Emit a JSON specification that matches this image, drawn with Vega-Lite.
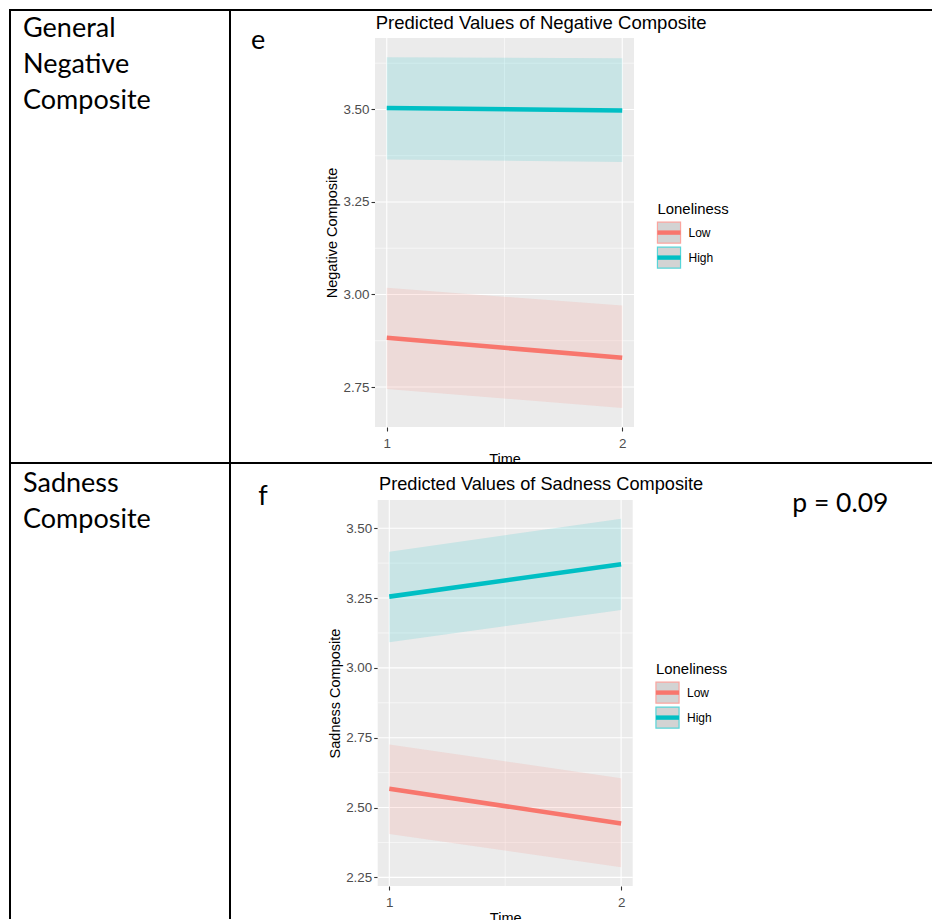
{
  "$schema": "https://vega.github.io/schema/vega-lite/v6.json",
  "background": "#FFFFFF",
  "padding": {"left": 9, "top": 9, "right": 0, "bottom": 0},
  "bounds": "flush",
  "spacing": 0,
  "columns": 2,
  "resolve": {
    "scale": {"fill": "independent", "stroke": "independent"},
    "legend": {"fill": "independent", "stroke": "independent"}
  },
  "datasets": {
    "negative": [
      {"Time": 1, "Loneliness": "Low", "predicted": 2.883, "conf_low": 2.745, "conf_high": 3.018},
      {"Time": 2, "Loneliness": "Low", "predicted": 2.829, "conf_low": 2.693, "conf_high": 2.970},
      {"Time": 1, "Loneliness": "High", "predicted": 3.504, "conf_low": 3.365, "conf_high": 3.641},
      {"Time": 2, "Loneliness": "High", "predicted": 3.497, "conf_low": 3.358, "conf_high": 3.638}
    ],
    "sadness": [
      {"Time": 1, "Loneliness": "Low", "predicted": 2.567, "conf_low": 2.405, "conf_high": 2.726},
      {"Time": 2, "Loneliness": "Low", "predicted": 2.443, "conf_low": 2.286, "conf_high": 2.605},
      {"Time": 1, "Loneliness": "High", "predicted": 3.255, "conf_low": 3.092, "conf_high": 3.416},
      {"Time": 2, "Loneliness": "High", "predicted": 3.371, "conf_low": 3.207, "conf_high": 3.534}
    ]
  },
  "concat": [
    {
      "width": 220,
      "height": 453,
      "view": {"stroke": "#000000", "strokeWidth": 2},
      "title": {
        "text": ["General", "Negative", "Composite"],
        "frame": "group", "anchor": "start", "dx": 13, "offset": -105,
        "font": "Lato", "fontSize": 27, "fontWeight": "normal", "lineHeight": 36, "color": "#000000"
      },
      "data": {"values": []},
      "mark": {"type": "rule"},
      "encoding": {}
    },
    {
      "width": 702,
      "height": 453,
      "view": {"stroke": "#000000", "strokeWidth": 2, "strokeDash": [702, 453, 1155, 0]},
      "title": {
        "text": "Predicted Values of Negative Composite",
        "frame": "group", "anchor": "start", "dx": 145.7, "offset": -22,
        "font": "Liberation Sans", "fontSize": 18.5, "fontWeight": "normal", "color": "#000000"
      },
      "layer": [
        {
          "data": {"values": [{}]},
          "mark": {"type": "rect", "color": "#EBEBEB"},
          "encoding": {
            "x": {"datum": 0.95, "type": "quantitative",
                  "scale": {"domain": [0.95, 2.05], "range": [145, 404], "nice": false, "zero": false}},
            "x2": {"datum": 2.05},
            "y": {"datum": 2.642, "type": "quantitative",
                  "scale": {"domain": [2.642, 3.693], "range": [417, 28], "nice": false, "zero": false}},
            "y2": {"datum": 3.693}
          }
        },
        {
          "data": {"values": [{"v": 2.875}, {"v": 3.125}, {"v": 3.375}, {"v": 3.625}]},
          "mark": {"type": "rule", "color": "#FFFFFF", "strokeWidth": 0.55},
          "encoding": {
            "y": {"field": "v", "type": "quantitative"},
            "x": {"datum": 0.95, "type": "quantitative"},
            "x2": {"datum": 2.05}
          }
        },
        {
          "data": {"values": [{"v": 1.5}]},
          "mark": {"type": "rule", "color": "#FFFFFF", "strokeWidth": 0.55},
          "encoding": {
            "x": {"field": "v", "type": "quantitative"},
            "y": {"datum": 2.642, "type": "quantitative"},
            "y2": {"datum": 3.693}
          }
        },
        {
          "data": {"values": [{"v": 2.75}, {"v": 3.0}, {"v": 3.25}, {"v": 3.5}]},
          "mark": {"type": "rule", "color": "#FFFFFF", "strokeWidth": 1.1},
          "encoding": {
            "y": {"field": "v", "type": "quantitative"},
            "x": {"datum": 0.95, "type": "quantitative"},
            "x2": {"datum": 2.05}
          }
        },
        {
          "data": {"values": [{"v": 1}, {"v": 2}]},
          "mark": {"type": "rule", "color": "#FFFFFF", "strokeWidth": 1.1},
          "encoding": {
            "x": {"field": "v", "type": "quantitative"},
            "y": {"datum": 2.642, "type": "quantitative"},
            "y2": {"datum": 3.693}
          }
        },
        {
          "data": {"name": "negative"},
          "mark": {"type": "area", "opacity": 0.15},
          "encoding": {
            "x": {"field": "Time", "type": "quantitative",
                  "axis": {"title": "Time", "values": [1, 2], "format": "d", "offset": -36, "grid": false, "domain": false,
                           "tickSize": 4, "tickColor": "#333333", "tickWidth": 1.1,
                           "labelFont": "Liberation Sans", "labelFontSize": 13.4, "labelColor": "#4D4D4D", "labelPadding": 5, "labelFlush": false,
                           "titleFont": "Liberation Sans", "titleFontSize": 14.5, "titleFontWeight": "normal", "titleColor": "#000000", "titlePadding": 3}},
            "y": {"field": "conf_low", "type": "quantitative",
                  "axis": {"title": "Negative Composite", "values": [2.75, 3.0, 3.25, 3.5], "format": ".2f", "offset": -145, "grid": false, "domain": false,
                           "tickSize": 4, "tickColor": "#333333", "tickWidth": 1.1,
                           "labelFont": "Liberation Sans", "labelFontSize": 13.4, "labelColor": "#4D4D4D", "labelPadding": 2,
                           "titleFont": "Liberation Sans", "titleFontSize": 14.5, "titleFontWeight": "normal", "titleColor": "#000000", "titlePadding": 3.5}},
            "y2": {"field": "conf_high"},
            "fill": {"field": "Loneliness", "type": "nominal", "sort": ["Low", "High"],
                     "scale": {"range": ["#F8766D", "#00BFC4"]},
                     "legend": {"title": "Loneliness", "orient": "none", "legendX": 427.5, "legendY": 192.2, "padding": 0, "zindex": 2,
                                "titleFont": "Liberation Sans", "titleFontSize": 14.9, "titleFontWeight": "normal", "titleOpacity": 0, "titlePadding": 4,
                                "labelFont": "Liberation Sans", "labelFontSize": 12, "labelOpacity": 0, "labelOffset": 8,
                                "rowPadding": -3, "symbolType": "M-1.1,-1M1.1,1M-1.1,-0.21H1.1V0.21H-1.1Z", "symbolSize": 441,
                                "symbolStrokeWidth": 1.2, "symbolStrokeColor": "transparent", "symbolOpacity": 1}}
          }
        },
        {
          "data": {"name": "negative"},
          "mark": {"type": "line", "strokeWidth": 4.6, "strokeCap": "butt"},
          "encoding": {
            "x": {"field": "Time", "type": "quantitative"},
            "y": {"field": "predicted", "type": "quantitative"},
            "stroke": {"field": "Loneliness", "type": "nominal",
                       "scale": {"domain": ["Low", "High"], "range": ["#F8766D", "#00BFC4"]},
                       "legend": {"title": "Loneliness", "orient": "none", "legendX": 427.5, "legendY": 192.2, "padding": 0, "zindex": 1,
                                  "titleFont": "Liberation Sans", "titleFontSize": 14.9, "titleFontWeight": "normal", "titleColor": "#000000", "titlePadding": 4,
                                  "labelFont": "Liberation Sans", "labelFontSize": 12, "labelColor": "#000000", "labelOffset": 8,
                                  "rowPadding": -3, "symbolType": "M-1.1,-1H1.1V1H-1.1Z", "symbolSize": 441,
                                  "symbolStrokeWidth": 1.2, "symbolFillColor": "#BDBDBD", "symbolOpacity": 0.65}}
          }
        },
        {
          "data": {"values": [{"label": "e"}]},
          "mark": {"type": "text", "font": "Lato", "fontSize": 27, "color": "#000000", "align": "center", "baseline": "alphabetic"},
          "encoding": {
            "text": {"field": "label"},
            "x": {"datum": 0.4531, "type": "quantitative"},
            "y": {"datum": 3.6625, "type": "quantitative"}
          }
        }
      ]
    },
    {
      "width": 220,
      "height": 456,
      "view": {"stroke": "#000000", "strokeWidth": 2, "fill": "#FFFFFF", "strokeDash": [676, 220, 456, 0]},
      "title": {
        "text": ["Sadness", "Composite"],
        "frame": "group", "anchor": "start", "dx": 13, "offset": -70.5,
        "font": "Lato", "fontSize": 27, "fontWeight": "normal", "lineHeight": 36, "color": "#000000"
      },
      "data": {"values": []},
      "mark": {"type": "rule"},
      "encoding": {}
    },
    {
      "width": 702,
      "height": 456,
      "view": {"stroke": "#000000", "strokeWidth": 2, "fill": "#FFFFFF", "strokeDash": [702, 1158, 456, 0]},
      "title": {
        "text": "Predicted Values of Sadness Composite",
        "frame": "group", "anchor": "start", "dx": 149, "offset": -30.7,
        "font": "Liberation Sans", "fontSize": 18.2, "fontWeight": "normal", "color": "#000000"
      },
      "layer": [
        {
          "data": {"values": [{}]},
          "mark": {"type": "rect", "color": "#EBEBEB"},
          "encoding": {
            "x": {"datum": 0.95, "type": "quantitative",
                  "scale": {"domain": [0.95, 2.05], "range": [147.7, 402.7], "nice": false, "zero": false}},
            "x2": {"datum": 2.05},
            "y": {"datum": 2.219, "type": "quantitative",
                  "scale": {"domain": [2.219, 3.601], "range": [423, 37], "nice": false, "zero": false}},
            "y2": {"datum": 3.601}
          }
        },
        {
          "data": {"values": [{"v": 2.375}, {"v": 2.625}, {"v": 2.875}, {"v": 3.125}, {"v": 3.375}]},
          "mark": {"type": "rule", "color": "#FFFFFF", "strokeWidth": 0.55},
          "encoding": {
            "y": {"field": "v", "type": "quantitative"},
            "x": {"datum": 0.95, "type": "quantitative"},
            "x2": {"datum": 2.05}
          }
        },
        {
          "data": {"values": [{"v": 1.5}]},
          "mark": {"type": "rule", "color": "#FFFFFF", "strokeWidth": 0.55},
          "encoding": {
            "x": {"field": "v", "type": "quantitative"},
            "y": {"datum": 2.219, "type": "quantitative"},
            "y2": {"datum": 3.601}
          }
        },
        {
          "data": {"values": [{"v": 2.25}, {"v": 2.5}, {"v": 2.75}, {"v": 3.0}, {"v": 3.25}, {"v": 3.5}]},
          "mark": {"type": "rule", "color": "#FFFFFF", "strokeWidth": 1.1},
          "encoding": {
            "y": {"field": "v", "type": "quantitative"},
            "x": {"datum": 0.95, "type": "quantitative"},
            "x2": {"datum": 2.05}
          }
        },
        {
          "data": {"values": [{"v": 1}, {"v": 2}]},
          "mark": {"type": "rule", "color": "#FFFFFF", "strokeWidth": 1.1},
          "encoding": {
            "x": {"field": "v", "type": "quantitative"},
            "y": {"datum": 2.219, "type": "quantitative"},
            "y2": {"datum": 3.601}
          }
        },
        {
          "data": {"name": "sadness"},
          "mark": {"type": "area", "opacity": 0.15},
          "encoding": {
            "x": {"field": "Time", "type": "quantitative",
                  "axis": {"title": "Time", "values": [1, 2], "format": "d", "offset": -33, "grid": false, "domain": false,
                           "tickSize": 4, "tickColor": "#333333", "tickWidth": 1.1,
                           "labelFont": "Liberation Sans", "labelFontSize": 13.4, "labelColor": "#4D4D4D", "labelPadding": 5, "labelFlush": false,
                           "titleFont": "Liberation Sans", "titleFontSize": 14.5, "titleFontWeight": "normal", "titleColor": "#000000", "titlePadding": 3}},
            "y": {"field": "conf_low", "type": "quantitative",
                  "axis": {"title": "Sadness Composite", "values": [2.25, 2.5, 2.75, 3.0, 3.25, 3.5], "format": ".2f", "offset": -147.7, "grid": false, "domain": false,
                           "tickSize": 4, "tickColor": "#333333", "tickWidth": 1.1,
                           "labelFont": "Liberation Sans", "labelFontSize": 13.4, "labelColor": "#4D4D4D", "labelPadding": 2,
                           "titleFont": "Liberation Sans", "titleFontSize": 14.5, "titleFontWeight": "normal", "titleColor": "#000000", "titlePadding": 3.5}},
            "y2": {"field": "conf_high"},
            "fill": {"field": "Loneliness", "type": "nominal", "sort": ["Low", "High"],
                     "scale": {"range": ["#F8766D", "#00BFC4"]},
                     "legend": {"title": "Loneliness", "orient": "none", "legendX": 426, "legendY": 199.2, "padding": 0, "zindex": 2,
                                "titleFont": "Liberation Sans", "titleFontSize": 14.9, "titleFontWeight": "normal", "titleOpacity": 0, "titlePadding": 4,
                                "labelFont": "Liberation Sans", "labelFontSize": 12, "labelOpacity": 0, "labelOffset": 8,
                                "rowPadding": -3, "symbolType": "M-1.1,-1M1.1,1M-1.1,-0.21H1.1V0.21H-1.1Z", "symbolSize": 441,
                                "symbolStrokeWidth": 1.2, "symbolStrokeColor": "transparent", "symbolOpacity": 1}}
          }
        },
        {
          "data": {"name": "sadness"},
          "mark": {"type": "line", "strokeWidth": 4.6, "strokeCap": "butt"},
          "encoding": {
            "x": {"field": "Time", "type": "quantitative"},
            "y": {"field": "predicted", "type": "quantitative"},
            "stroke": {"field": "Loneliness", "type": "nominal",
                       "scale": {"domain": ["Low", "High"], "range": ["#F8766D", "#00BFC4"]},
                       "legend": {"title": "Loneliness", "orient": "none", "legendX": 426, "legendY": 199.2, "padding": 0, "zindex": 1,
                                  "titleFont": "Liberation Sans", "titleFontSize": 14.9, "titleFontWeight": "normal", "titleColor": "#000000", "titlePadding": 4,
                                  "labelFont": "Liberation Sans", "labelFontSize": 12, "labelColor": "#000000", "labelOffset": 8,
                                  "rowPadding": -3, "symbolType": "M-1.1,-1H1.1V1H-1.1Z", "symbolSize": 441,
                                  "symbolStrokeWidth": 1.2, "symbolFillColor": "#BDBDBD", "symbolOpacity": 0.65}}
          }
        },
        {
          "data": {"values": [{"label": "f"}]},
          "mark": {"type": "text", "font": "Lato", "fontSize": 27, "color": "#000000", "align": "center", "baseline": "alphabetic"},
          "encoding": {
            "text": {"field": "label"},
            "x": {"datum": 0.4552, "type": "quantitative"},
            "y": {"datum": 3.583, "type": "quantitative"}
          }
        },
        {
          "data": {"values": [{"label": "p = 0.09"}]},
          "mark": {"type": "text", "font": "Lato", "fontSize": 26.5, "color": "#000000", "align": "center", "baseline": "alphabetic"},
          "encoding": {
            "text": {"field": "label"},
            "x": {"datum": 2.946, "type": "quantitative"},
            "y": {"datum": 3.5591, "type": "quantitative"}
          }
        }
      ]
    }
  ],
  "config": {"view": {"stroke": null}}
}
